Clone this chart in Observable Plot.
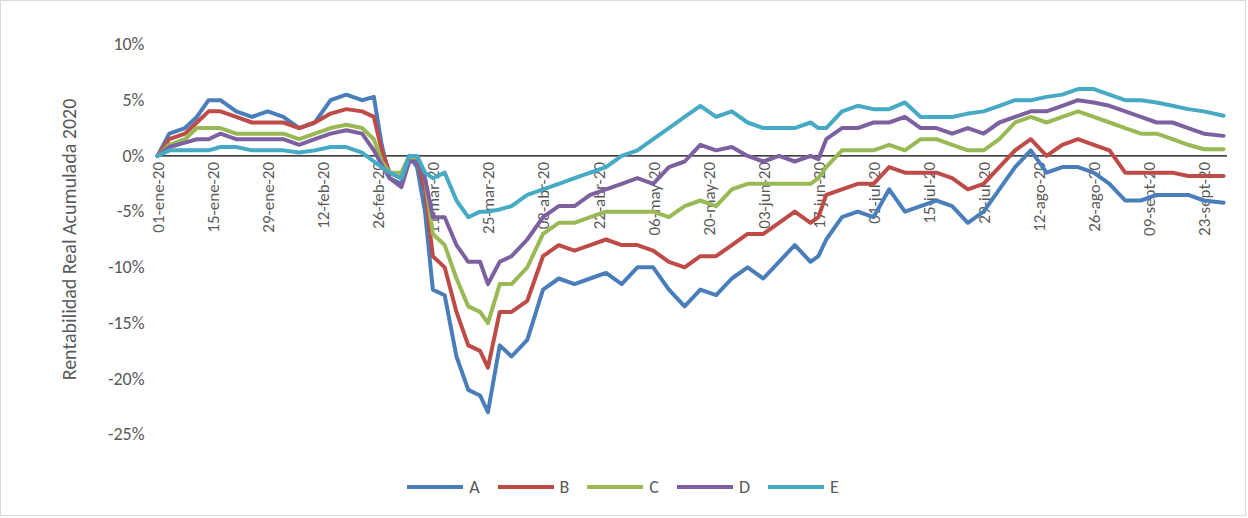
<!DOCTYPE html>
<html><head><meta charset="utf-8">
<script src="https://cdn.jsdelivr.net/npm/d3@7"></script>
<script src="https://cdn.jsdelivr.net/npm/@observablehq/plot@0.6"></script>
<style>
body{margin:0;background:#fff;font-family:Calibri,Carlito,"Liberation Sans",sans-serif;}
#wrap{width:1244px;height:514px;border:1px solid #d9d9d9;position:relative;}
#legend{position:absolute;top:475px;left:0;width:100%;display:flex;justify-content:center;gap:18px;font-size:18px;color:#595959;}
#legend span{display:flex;align-items:center;gap:6px;}
#legend i{display:inline-block;width:56px;height:4px;}
</style></head>
<body><div id="wrap"><div id="chart"></div><div id="legend"></div></div>
<script>
// días desde 01-ene-2020
const days = [0,3,7,10,13,16,20,24,28,32,36,40,44,48,52,55,57,59,62,64,66,68,70,73,76,79,82,84,87,90,94,98,102,106,110,114,118,122,126,130,134,138,142,146,150,154,158,162,166,168,170,174,178,182,186,190,194,198,202,206,210,214,218,222,226,230,234,238,242,246,250,254,258,262,266,271];
const serieA = [0,2,2.5,3.5,5,5,4,3.5,4,3.5,2.5,3,5,5.5,5,5.3,1,-2,-2.5,0, -1,-5,-12,-12.5,-18,-21,-21.5,-23,-17,-18, -16.5,-12,-11,-11.5,-11,-10.5,-11.5,-10,-10,-12, -13.5,-12,-12.5,-11,-10,-11,-9.5,-8,-9.5,-9, -7.5,-5.5,-5,-5.5,-3,-5,-4.5,-4,-4.5,-6, -5,-3,-1,0.5,-1.5,-1,-1,-1.5,-2.5,-4, -4,-3.5,-3.5,-3.5,-4,-4.2];
const serieB = [0,1.5,2,3,4,4,3.5,3,3,3,2.5,3,3.8,4.2,4,3.5,0.5,-1.5,-2,0, -0.5,-3,-9,-10,-14,-17,-17.5,-19,-14,-14, -13,-9,-8,-8.5,-8,-7.5,-8,-8,-8.5,-9.5, -10,-9,-9,-8,-7,-7,-6,-5,-6,-5.5, -3.5,-3,-2.5,-2.5,-1,-1.5,-1.5,-1.5,-2,-3, -2.5,-1,0.5,1.5,0,1,1.5,1,0.5,-1.5, -1.5,-1.5,-1.5,-1.8,-1.8,-1.8];
const serieC = [0,1,1.5,2.5,2.5,2.5,2,2,2,2,1.5,2,2.5,2.8,2.5,1.5,-0.5,-1.5,-1.5,0, -0.5,-2,-7,-8,-11,-13.5,-14,-15,-11.5,-11.5, -10,-7,-6,-6,-5.5,-5,-5,-5,-5,-5.5, -4.5,-4,-4.5,-3,-2.5,-2.5,-2.5,-2.5,-2.5,-2, -1,0.5,0.5,0.5,1,0.5,1.5,1.5,1,0.5, 0.5,1.5,3,3.5,3,3.5,4,3.5,3,2.5, 2,2,1.5,1,0.6,0.6];
const serieD = [0,0.8,1.2,1.5,1.5,2,1.5,1.5,1.5,1.5,1,1.5,2,2.3,2,0.5,-0.8,-2,-2.8,-0.5, -0.5,-2,-5.5,-5.5,-8,-9.5,-9.5,-11.5,-9.5,-9, -7.5,-5.5,-4.5,-4.5,-3.5,-3,-2.5,-2,-2.5,-1, -0.5,1,0.5,0.8,0,-0.5,0,-0.5,0,-0.3, 1.5,2.5,2.5,3,3,3.5,2.5,2.5,2,2.5, 2,3,3.5,4,4,4.5,5,4.8,4.5,4, 3.5,3,3,2.5,2,1.8];
const serieE = [0,0.5,0.5,0.5,0.5,0.8,0.8,0.5,0.5,0.5,0.3,0.5,0.8,0.8,0.3,-0.5,-1,-1.5,-2,0, 0,-1.5,-2,-1.5,-4,-5.5,-5,-5,-4.8,-4.5, -3.5,-3,-2.5,-2,-1.5,-1,0,0.5,1.5,2.5, 3.5,4.5,3.5,4,3,2.5,2.5,2.5,3,2.5, 2.5,4,4.5,4.2,4.2,4.8,3.5,3.5,3.5,3.8, 4,4.5,5,5,5.3,5.5,6,6,5.5,5, 5,4.8,4.5,4.2,4,3.6];
const seriesNames = ["A","B","C","D","E"];
const colors = ["#4a7ebb","#be4b48","#98b954","#7d60a0","#46aac5"];
const tickLabels = ["01-ene-20","15-ene-20","29-ene-20","12-feb-20","26-feb-20","11-mar-20","25-mar-20","08-abr-20","22-abr-20","06-may-20","20-may-20","03-jun-20","17-jun-20","01-jul-20","15-jul-20","29-jul-20","12-ago-20","26-ago-20","09-sept-20","23-sept-20"];

const start = Date.UTC(2020,0,1);
const dayDate = d => new Date(start + d*864e5);
const values = [serieA, serieB, serieC, serieD, serieE];
const rows = [];
seriesNames.forEach((s,i) => days.forEach((d,j) => rows.push({serie:s, date:dayDate(d), v:values[i][j]})));
const ticks = tickLabels.map((t,i) => ({date: dayDate(i*14), t}));

const chart = Plot.plot({
  width: 1244, height: 450,
  marginLeft: 156, marginRight: 18, marginTop: 43, marginBottom: 17,
  style: {fontFamily: "Calibri, Carlito, 'Liberation Sans', sans-serif", color: "#595959"},
  x: {type: "utc", domain: [dayDate(0), dayDate(272)], axis: null},
  y: {domain: [-25, 10]},
  color: {domain: seriesNames, range: colors},
  marks: [
    Plot.axisY({ticks: [-25,-20,-15,-10,-5,0,5,10], tickFormat: d => d + "%", tickSize: 0, tickPadding: 13, fontSize: 18,
      label: "Rentabilidad Real Acumulada 2020", labelAnchor: "center", labelArrow: "none", labelOffset: 96}),
    Plot.ruleY([0], {stroke: "#000", strokeWidth: 1.2}),
    Plot.text(ticks, {x: "date", y: 0, text: "t", rotate: -90, textAnchor: "end", dx: 1, dy: 6, fontSize: 17, fill: "#595959"}),
    Plot.line(rows, {x: "date", y: "v", stroke: "serie", z: "serie", strokeWidth: 4, curve: "linear"})
  ]
});
chart.querySelectorAll("g[aria-label='y-axis label'] text").forEach(t => t.style.fontSize = "20px");
document.getElementById("chart").append(chart);
const leg = d3.select("#legend");
seriesNames.forEach((s,i) => { const sp = leg.append("span"); sp.append("i").style("background", colors[i]); sp.append("b").style("font-weight","normal").text(s); });
</script></body></html>
